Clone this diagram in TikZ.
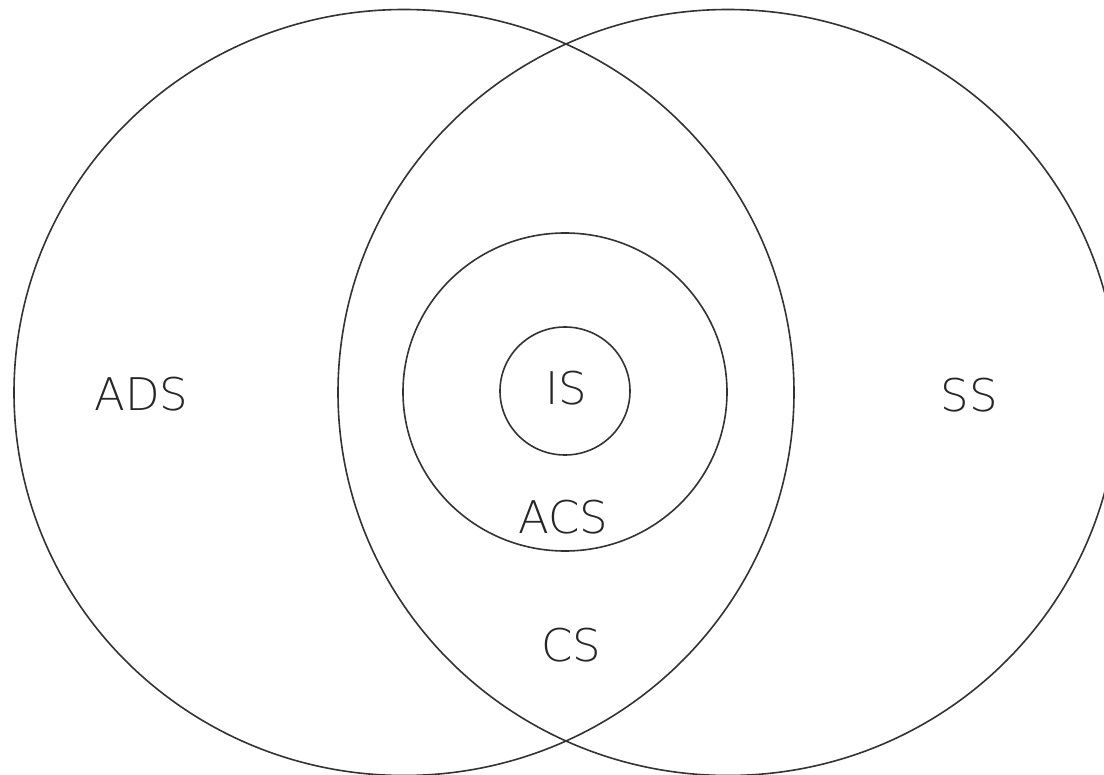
\documentclass[tikz,border=0pt]{standalone}
\usepackage{fontspec}
\newfontfamily\lblfont{DejaVu Sans ExtraLight}
\begin{document}
\begin{tikzpicture}[x=1pt,y=-1pt,
  ring/.style={draw=black!80,line width=1.6pt},
  lbl/.style={inner sep=0pt,anchor=base,text=black!85,font=\lblfont\fontsize{45}{50}\selectfont}]
\useasboundingbox[fill=white] (0,0) rectangle (1104,775);
\draw[ring] (404,392.5) ellipse [x radius=390,y radius=383];
\draw[ring] (728,392.5) ellipse [x radius=390,y radius=383];
\draw[ring] (565,392) ellipse [x radius=162,y radius=159];
\draw[ring] (565,391) ellipse [x radius=65,y radius=64];
\node[lbl] (ads) at (141.5,410.5) {ADS};
\node[lbl] (is) at (566,405) {IS};
\node[lbl] (acs) at (563,533) {ACS};
\node[lbl] (cs) at (571.5,661.5) {CS};
\node[lbl] (ss) at (969.5,411.5) {SS};
\end{tikzpicture}
\end{document}
